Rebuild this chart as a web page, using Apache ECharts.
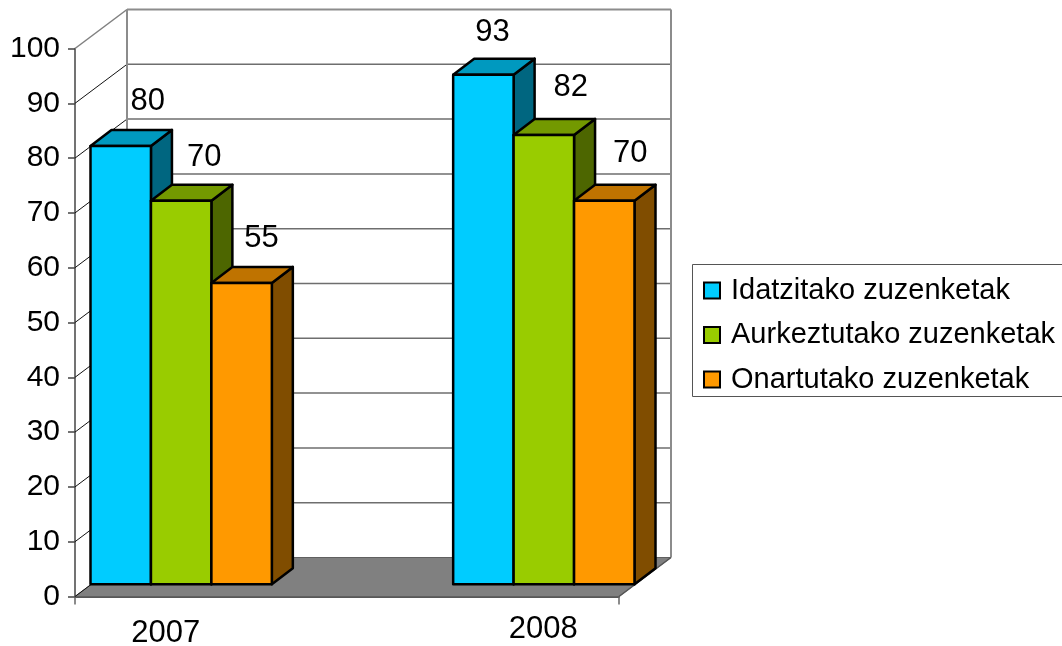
<!DOCTYPE html>
<html>
<head>
<meta charset="utf-8">
<style>
html, body { margin: 0; padding: 0; background: #fff; }
#main { width: 1062px; height: 646px; }
</style>
<script src="https://cdn.jsdelivr.net/npm/echarts@6/dist/echarts.min.js"></script>
</head>
<body>
<div id="main"></div>
<script>
// the source chart has an empty slot between the two years
var categories = ['2007', '', '2008'];
var yTicks = [0, 10, 20, 30, 40, 50, 60, 70, 80, 90, 100];
var idatzitako = [80, null, 93];
var aurkeztutako = [70, null, 82];
var onartutako = [55, null, 70];

var FONT = '"Liberation Sans", Arial, sans-serif';
var FONT_SIZE = 29;
var NUM_SIZE = 31;
// depth of the box (back wall) and of the bars inside it
var WALL_DX = 52, WALL_DY = 39;
var BAR_X = 15.5, BAR_Y = 12.2, BAR_DX = 21, BAR_DY = 16;

var myChart = echarts.init(document.getElementById('main'));

function floorItem(params, api) {
    var cs = params.coordSys;
    var l = cs.x, r = cs.x + cs.width, b = cs.y + cs.height;
    return {
        type: 'polygon',
        shape: { points: [[l, b], [l + WALL_DX, b - WALL_DY], [r + WALL_DX, b - WALL_DY], [r, b]] },
        style: { fill: '#808080', stroke: '#606060', lineWidth: 1 }
    };
}

function wallItem(params, api) {
    var cs = params.coordSys;
    var l = cs.x, r = cs.x + cs.width;
    var v = api.value(0);
    var y = api.coord([0, v])[1];
    var children = [];
    var top = v === 100;
    children.push({
        type: 'line',
        shape: { x1: l, y1: y, x2: l + WALL_DX, y2: y - WALL_DY },
        style: { stroke: top ? '#808080' : '#111', lineWidth: top ? 1.5 : 1 }
    });
    if (v !== 0) {
        children.push({
            type: 'line',
            shape: { x1: l + WALL_DX, y1: y - WALL_DY, x2: r + WALL_DX, y2: y - WALL_DY },
            style: { stroke: top ? '#8c8c8c' : '#6e6e6e', lineWidth: top ? 2 : 1.5 }
        });
    }
    if (top) {
        var b = cs.y + cs.height;
        children.push({
            type: 'line',
            shape: { x1: l + WALL_DX, y1: y - WALL_DY, x2: l + WALL_DX, y2: b - WALL_DY },
            style: { stroke: '#8c8c8c', lineWidth: 2 }
        });
        children.push({
            type: 'line',
            shape: { x1: r + WALL_DX, y1: y - WALL_DY, x2: r + WALL_DX, y2: b - WALL_DY },
            style: { stroke: '#8c8c8c', lineWidth: 2 }
        });
        children.push({
            type: 'line',
            shape: { x1: r, y1: b, x2: r + WALL_DX, y2: b - WALL_DY },
            style: { stroke: '#555', lineWidth: 1.5 }
        });
    }
    return { type: 'group', children: children };
}

function barSeries(name, values, idx, colors, shifts) {
    return {
        name: name,
        type: 'custom',
        z: 3 + idx,
        silent: true,
        itemStyle: { color: colors[0], borderColor: '#000', borderWidth: 2.5 },
        data: values.map(function (v, i) { return [i, v]; }),
        renderItem: function (params, api) {
            var v = api.value(1);
            if (isNaN(v) || v === null) return;
            var i = api.value(0);
            var band = api.size([1, 0])[0];
            var w = band / 3;
            var c0 = api.coord([i, 0]);
            var c1 = api.coord([i, v]);
            var x0 = c0[0] - band / 2 + BAR_X + w * idx;
            var x1 = x0 + w;
            var y0 = c0[1] - BAR_Y;
            var y1 = c1[1] - BAR_Y;
            var edge = { stroke: '#000', lineWidth: 2.5, lineJoin: 'round' };
            var s = shifts[i];
            return {
                type: 'group',
                children: [
                    { type: 'polygon', shape: { points: [[x1, y1], [x1 + BAR_DX, y1 - BAR_DY], [x1 + BAR_DX, y0 - BAR_DY], [x1, y0]] },
                      style: Object.assign({ fill: colors[2] }, edge) },
                    { type: 'polygon', shape: { points: [[x0, y1], [x0 + BAR_DX, y1 - BAR_DY], [x1 + BAR_DX, y1 - BAR_DY], [x1, y1]] },
                      style: Object.assign({ fill: colors[1] }, edge) },
                    { type: 'rect', shape: { x: x0, y: y1, width: w, height: y0 - y1 },
                      style: Object.assign({ fill: colors[0] }, edge) },
                    { type: 'text', x: (x0 + x1) / 2 + s[0], y: y1 + s[1],
                      style: { text: String(v), fill: '#000', font: NUM_SIZE + 'px ' + FONT, align: 'center', verticalAlign: 'middle' } }
                ]
            };
        }
    };
}

var option = {
    animation: false,
    backgroundColor: '#fff',
    textStyle: { fontFamily: FONT },
    grid: { left: 75, top: 48.5, width: 544, height: 548, containLabel: false, outerBoundsMode: 'none' },
    legend: {
        orient: 'vertical',
        left: 703,
        top: 276,
        padding: 0,
        itemWidth: 16,
        itemHeight: 16,
        itemGap: 15.5,
        icon: 'rect',
        selectedMode: false,
        textStyle: { color: '#000', fontSize: FONT_SIZE, fontFamily: FONT, padding: [0, 0, 0, 6] },
        data: ['Idatzitako zuzenketak', 'Aurkeztutako zuzenketak', 'Onartutako zuzenketak']
    },
    graphic: [{
        type: 'rect',
        silent: true,
        shape: { x: 692.5, y: 264.5, width: 380, height: 132 },
        style: { fill: '#fff', stroke: '#555', lineWidth: 1 },
        z: -1
    }],
    xAxis: {
        type: 'category',
        data: [
            { value: categories[0], textStyle: { padding: [4, 0, 0, 0] } },
            categories[1],
            { value: categories[2], textStyle: { padding: [0, 0, 0, 30] } }
        ],
        axisLine: { show: true, lineStyle: { color: '#222', width: 1.5 } },
        axisTick: { show: true, length: 8, interval: function (i) { return i === 0 || i === 3; }, lineStyle: { color: '#666', width: 1.5 } },
        axisLabel: { interval: 0, color: '#000', fontSize: NUM_SIZE, fontFamily: FONT, margin: 17 },
        splitLine: { show: false }
    },
    yAxis: {
        type: 'value',
        min: 0,
        max: 100,
        interval: 10,
        axisLine: { show: true, lineStyle: { color: '#444', width: 1.5 } },
        axisTick: { show: true, length: 7, lineStyle: { color: '#444', width: 1.5 } },
        axisLabel: { color: '#000', fontSize: 30, fontFamily: FONT, margin: 15, padding: [9, 0, 0, 0] },
        splitLine: { show: false }
    },
    series: [
        { type: 'custom', z: 1, silent: true, data: [[0]], renderItem: floorItem },
        { type: 'custom', z: 1, silent: true, data: yTicks.map(function (t) { return [t]; }), encode: { y: 0 }, renderItem: wallItem },
        barSeries('Idatzitako zuzenketak', idatzitako, 0, ['#00ccff', '#0099bf', '#006680'], [[27, -44], null, [9, -42]]),
        barSeries('Aurkeztutako zuzenketak', aurkeztutako, 1, ['#99cc00', '#739900', '#4d6600'], [[23, -43], null, [27, -47]]),
        barSeries('Onartutako zuzenketak', onartutako, 2, ['#ff9900', '#bf7300', '#804d00'], [[20, -44], null, [26, -47]])
    ]
};
myChart.setOption(option);
</script>
</body>
</html>
